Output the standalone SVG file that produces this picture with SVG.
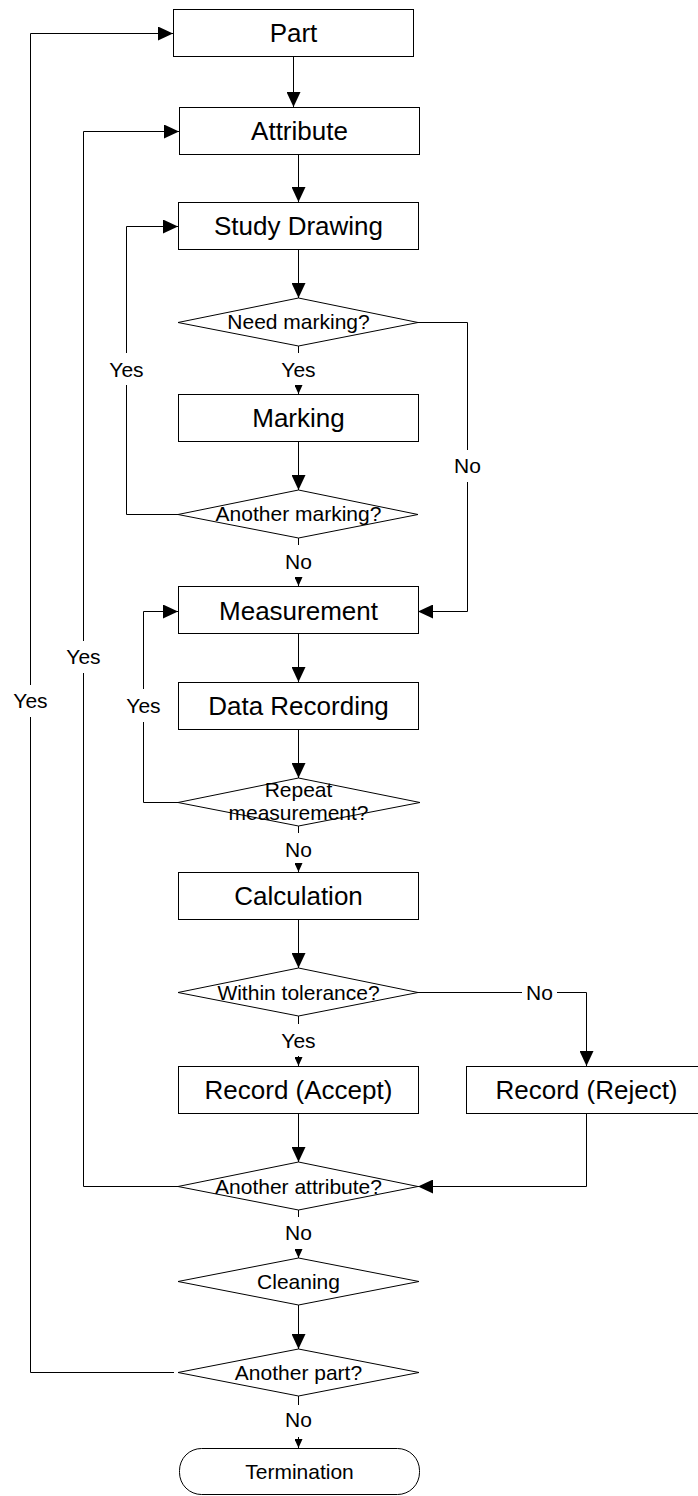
<svg xmlns="http://www.w3.org/2000/svg" width="698" height="1496" viewBox="0 0 698 1496">
  <style>
    .shape { fill: #ffffff; stroke: #000000; stroke-width: 1; }
    .wire { fill: none; stroke: #000000; stroke-width: 1; }
    .box { font-family: "Liberation Sans", Arial, sans-serif; font-size: 26px; fill: #000000; text-anchor: middle; }
    .dec { font-family: "Liberation Sans", Arial, sans-serif; font-size: 21px; fill: #000000; text-anchor: middle; }
    .lbl { font-family: "Liberation Sans", Arial, sans-serif; font-size: 21px; fill: #000000; text-anchor: middle; }
  </style>
  <defs>
    <marker id="arrow" markerUnits="userSpaceOnUse" markerWidth="15" markerHeight="14" refX="15" refY="7" orient="auto">
      <path d="M0,0 L15,7 L0,14 Z" fill="#000000"/>
    </marker>
    <marker id="arrow-small" markerUnits="userSpaceOnUse" markerWidth="9" markerHeight="8" refX="9" refY="4" orient="auto">
      <path d="M0,0 L9,4 L0,8 Z" fill="#000000"/>
    </marker>
  </defs>

  <rect width="698" height="1496" fill="#ffffff"/>

  <!-- connectors -->
  <g id="connectors">
    <path class="wire" d="M293.5,57 V107" marker-end="url(#arrow)"/>
    <path class="wire" d="M298.5,155 V202" marker-end="url(#arrow)"/>
    <path class="wire" d="M298.5,250 V298" marker-end="url(#arrow)"/>

    <!-- Need marking? : Yes -->
    <path class="wire" d="M298.5,346 V353"/>
    <path class="wire" d="M298.5,385 V394" marker-end="url(#arrow-small)"/>
    <text class="lbl" x="298.5" y="377">Yes</text>

    <!-- Need marking? : No -->
    <path class="wire" d="M418,322.5 H467.5 V450"/>
    <path class="wire" d="M467.5,482 V611.5 H418" marker-end="url(#arrow)"/>
    <text class="lbl" x="467.5" y="473">No</text>

    <path class="wire" d="M298.5,442 V490" marker-end="url(#arrow)"/>

    <!-- Another marking? : Yes -->
    <path class="wire" d="M178,514.5 H126.5 V385"/>
    <path class="wire" d="M126.5,353 V226.5 H178" marker-end="url(#arrow)"/>
    <text class="lbl" x="126.5" y="377">Yes</text>

    <!-- Another marking? : No -->
    <path class="wire" d="M298.5,538 V545"/>
    <path class="wire" d="M298.5,578 V586" marker-end="url(#arrow-small)"/>
    <text class="lbl" x="298.5" y="569">No</text>

    <path class="wire" d="M298.5,634 V682" marker-end="url(#arrow)"/>
    <path class="wire" d="M298.5,730 V778" marker-end="url(#arrow)"/>

    <!-- Repeat measurement? : Yes -->
    <path class="wire" d="M178,802.5 H143.5 V722"/>
    <path class="wire" d="M143.5,689 V611.5 H178" marker-end="url(#arrow)"/>
    <text class="lbl" x="143.5" y="713">Yes</text>

    <!-- Repeat measurement? : No -->
    <path class="wire" d="M298.5,826 V833"/>
    <path class="wire" d="M298.5,865 V872" marker-end="url(#arrow-small)"/>
    <text class="lbl" x="298.5" y="857">No</text>

    <path class="wire" d="M298.5,920 V968" marker-end="url(#arrow)"/>

    <!-- Within tolerance? : Yes -->
    <path class="wire" d="M298.5,1016 V1024"/>
    <path class="wire" d="M298.5,1056 V1066" marker-end="url(#arrow-small)"/>
    <text class="lbl" x="298.5" y="1048">Yes</text>

    <!-- Within tolerance? : No -->
    <path class="wire" d="M418,992.5 H522"/>
    <path class="wire" d="M557,992.5 H586.5 V1066" marker-end="url(#arrow)"/>
    <text class="lbl" x="539.5" y="999.5">No</text>

    <path class="wire" d="M298.5,1114 V1162" marker-end="url(#arrow)"/>
    <path class="wire" d="M586.5,1114 V1186.5 H418" marker-end="url(#arrow)"/>

    <!-- Another attribute? : Yes -->
    <path class="wire" d="M178,1186.5 H83.5 V673"/>
    <path class="wire" d="M83.5,641 V131.5 H179" marker-end="url(#arrow)"/>
    <text class="lbl" x="83.5" y="664">Yes</text>

    <!-- Another attribute? : No -->
    <path class="wire" d="M298.5,1210 V1217"/>
    <path class="wire" d="M298.5,1249 V1258" marker-end="url(#arrow-small)"/>
    <text class="lbl" x="298.5" y="1240">No</text>

    <path class="wire" d="M298.5,1305 V1349" marker-end="url(#arrow)"/>

    <!-- Another part? : Yes -->
    <path class="wire" d="M174,1372.5 H30.5 V717"/>
    <path class="wire" d="M30.5,685 V33.5 H173" marker-end="url(#arrow)"/>
    <text class="lbl" x="30.5" y="708">Yes</text>

    <!-- Another part? : No -->
    <path class="wire" d="M298.5,1396 V1405"/>
    <path class="wire" d="M298.5,1437 V1448" marker-end="url(#arrow-small)"/>
    <text class="lbl" x="298.5" y="1427">No</text>
  </g>

  <!-- nodes -->
  <g id="part">
    <rect class="shape" x="173.5" y="9.5" width="240" height="47"/>
    <text class="box" x="293.5" y="42">Part</text>
  </g>
  <g id="attribute">
    <rect class="shape" x="179.5" y="107.5" width="240" height="47"/>
    <text class="box" x="299.5" y="140">Attribute</text>
  </g>
  <g id="study-drawing">
    <rect class="shape" x="178.5" y="202.5" width="240" height="47"/>
    <text class="box" x="298.5" y="235">Study Drawing</text>
  </g>
  <g id="need-marking">
    <polygon class="shape" points="178,322.5 298.5,298 418,322.5 298.5,346"/>
    <text class="dec" x="298.5" y="329">Need marking?</text>
  </g>
  <g id="marking">
    <rect class="shape" x="178.5" y="394.5" width="240" height="47"/>
    <text class="box" x="298.5" y="427">Marking</text>
  </g>
  <g id="another-marking">
    <polygon class="shape" points="178,514.5 298.5,490 418,514.5 298.5,538"/>
    <text class="dec" x="298.5" y="521">Another marking?</text>
  </g>
  <g id="measurement">
    <rect class="shape" x="178.5" y="586.5" width="240" height="47"/>
    <text class="box" x="298.5" y="620">Measurement</text>
  </g>
  <g id="data-recording">
    <rect class="shape" x="178.5" y="682.5" width="240" height="47"/>
    <text class="box" x="298.5" y="715">Data Recording</text>
  </g>
  <g id="repeat-measurement">
    <polygon class="shape" points="178,802.5 298.5,778 420,802.5 298.5,826"/>
    <text class="dec" x="298.5" y="797">Repeat</text>
    <text class="dec" x="298.5" y="820">measurement?</text>
  </g>
  <g id="calculation">
    <rect class="shape" x="178.5" y="872.5" width="240" height="47"/>
    <text class="box" x="298.5" y="905">Calculation</text>
  </g>
  <g id="within-tolerance">
    <polygon class="shape" points="178,992.5 298.5,968 418,992.5 298.5,1016"/>
    <text class="dec" x="298.5" y="999.5">Within tolerance?</text>
  </g>
  <g id="record-accept">
    <rect class="shape" x="178.5" y="1066.5" width="240" height="47"/>
    <text class="box" x="298.5" y="1099">Record (Accept)</text>
  </g>
  <g id="record-reject">
    <rect class="shape" x="466.5" y="1066.5" width="240" height="47"/>
    <text class="box" x="586.5" y="1099">Record (Reject)</text>
  </g>
  <g id="another-attribute">
    <polygon class="shape" points="178,1186.5 298.5,1162 418,1186.5 298.5,1210"/>
    <text class="dec" x="298.5" y="1193.5">Another attribute?</text>
  </g>
  <g id="cleaning">
    <polygon class="shape" points="178,1281.5 298.5,1258 419,1281.5 298.5,1305"/>
    <text class="dec" x="298.5" y="1289">Cleaning</text>
  </g>
  <g id="another-part">
    <polygon class="shape" points="178,1372.5 298.5,1349 419,1372.5 298.5,1396"/>
    <text class="dec" x="298.5" y="1380">Another part?</text>
  </g>
  <g id="termination">
    <rect class="shape" x="179.5" y="1448.5" width="240" height="46" rx="22" ry="22"/>
    <text class="dec" x="299.5" y="1479">Termination</text>
  </g>
</svg>
